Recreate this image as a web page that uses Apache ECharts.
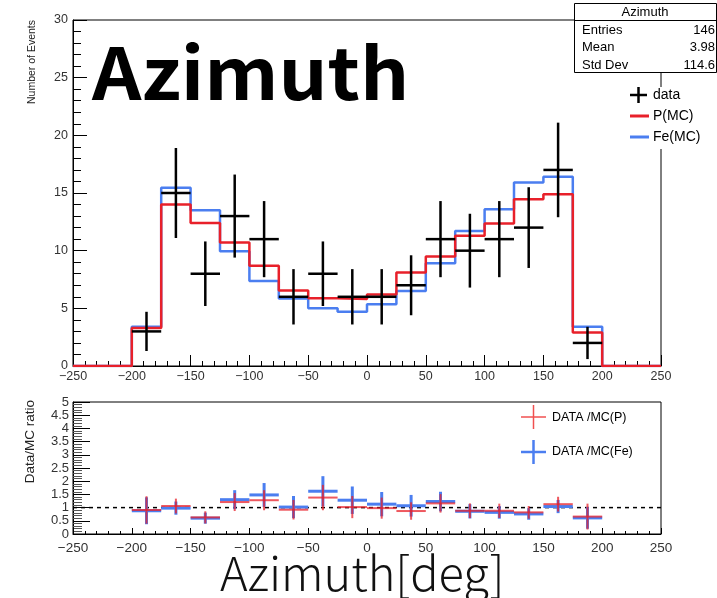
<!DOCTYPE html>
<html>
<head>
<meta charset="utf-8">
<script src="https://cdn.jsdelivr.net/npm/echarts@6/dist/echarts.min.js"></script>
<style>
  html, body { margin: 0; padding: 0; background: #fff; }
  #chart { width: 717px; height: 598px; }
</style>
</head>
<body>
<div id="chart"></div>
<script>
// Azimuth distribution: data vs. proton / iron Monte Carlo, with Data/MC ratio panel.
const binCenters = [-187.5, -162.5, -137.5, -112.5, -87.5, -62.5, -37.5, -12.5,
                    12.5, 37.5, 62.5, 87.5, 112.5, 137.5, 162.5, 187.5];
const binHalfWidth = 12.5;

const dataCounts = [3, 15, 8, 13, 11, 6, 8, 6, 6, 7, 11, 10, 11, 12, 17, 2];
const dataErrors = [1.7, 3.9, 2.8, 3.6, 3.3, 2.4, 2.8, 2.4, 2.4, 2.6, 3.3, 3.2, 3.3, 3.5, 4.1, 1.4];

const mcProton = [3.3, 14.0, 12.4, 10.7, 8.7, 6.55, 5.87, 5.8, 6.2, 8.1, 9.5, 11.3, 12.35, 14.45, 14.9, 2.9];
const mcIron   = [3.4, 15.45, 13.5, 9.95, 7.37, 5.85, 5.0, 4.7, 5.35, 6.5, 8.9, 11.7, 13.6, 15.9, 16.4, 3.4];

const ratioProton    = [0.91, 1.06, 0.63, 1.21, 1.28, 0.92, 1.38, 1.02, 0.98, 0.87, 1.16, 0.88, 0.88, 0.82, 1.13, 0.66];
const ratioProtonErr = [0.52, 0.28, 0.23, 0.34, 0.38, 0.37, 0.48, 0.42, 0.40, 0.33, 0.35, 0.28, 0.27, 0.24, 0.28, 0.49];
const ratioIron      = [0.88, 0.98, 0.60, 1.30, 1.48, 1.02, 1.62, 1.28, 1.13, 1.07, 1.23, 0.86, 0.82, 0.76, 1.04, 0.61];
const ratioIronErr   = [0.51, 0.25, 0.21, 0.36, 0.45, 0.42, 0.57, 0.52, 0.46, 0.41, 0.37, 0.27, 0.24, 0.22, 0.25, 0.41];

const xTicks = { min: -250, max: 250, interval: 50 };
const statsRows = [['Entries', '146'], ['Mean', '3.98'], ['Std Dev', '114.6']];

const RED = '#e8202a';
const BLUE = '#4b7ef0';
const AXIS_FONT = 'Liberation Sans, Arial, sans-serif';

// Step outline of a binned histogram, zero outside the filled bins.
function stepOutline(values) {
  const pts = [[xTicks.min, 0]];
  let prev = 0;
  values.forEach((v, i) => {
    const lo = binCenters[i] - binHalfWidth;
    const hi = binCenters[i] + binHalfWidth;
    pts.push([lo, prev], [lo, v], [hi, v]);
    prev = v;
  });
  const last = binCenters[binCenters.length - 1] + binHalfWidth;
  pts.push([last, 0], [xTicks.max, 0]);
  return pts;
}

// Error-bar crosses: [x, y, xErr, yErr]
function crossItems(values, errors) {
  return values.map((v, i) => [binCenters[i], v, binHalfWidth, errors[i]]);
}
function crossRenderer(color, width, opacity) {
  return function (params, api) {
    const x = api.value(0), y = api.value(1), ex = api.value(2), ey = api.value(3);
    const l = api.coord([x - ex, y]), r = api.coord([x + ex, y]);
    const t = api.coord([x, y + ey]), b = api.coord([x, y - ey]);
    const style = { stroke: color, lineWidth: width, opacity: opacity };
    return {
      type: 'group',
      children: [
        { type: 'line', shape: { x1: l[0], y1: l[1], x2: r[0], y2: r[1] }, style: style },
        { type: 'line', shape: { x1: t[0], y1: t[1], x2: b[0], y2: b[1] }, style: style }
      ]
    };
  };
}

const minusFmt = v => String(v).replace('-', '\u2212');

function xAxisDef(gridIndex, fontSize, margin, majorLen, minorLen) {
  return {
    type: 'value', gridIndex: gridIndex,
    min: xTicks.min, max: xTicks.max, interval: xTicks.interval,
    axisLine: { onZero: false, lineStyle: { color: '#000', width: 1 } },
    axisTick: { inside: true, length: majorLen, lineStyle: { color: '#000', width: 1 } },
    minorTick: { show: true, splitNumber: 5, length: minorLen, lineStyle: { color: '#000', width: 1 } },
    splitLine: { show: false },
    axisLabel: { fontFamily: AXIS_FONT, fontSize: fontSize, color: '#333', margin: margin,
                 showMinLabel: true, showMaxLabel: true, formatter: minusFmt }
  };
}

const chart = echarts.init(document.getElementById('chart'), null, { renderer: 'canvas' });

const option = {
  backgroundColor: '#fff',
  animation: false,
  grid: [
    { left: 73, top: 20, width: 588, height: 346, show: true, borderColor: '#000', borderWidth: 1, backgroundColor: 'transparent' },
    { left: 73, top: 402, width: 588, height: 132, show: true, borderColor: '#000', borderWidth: 1, backgroundColor: 'transparent' }
  ],
  xAxis: [
    xAxisDef(0, 12.5, 4, 11, 5),
    xAxisDef(1, 13.5, 7, 6, 3)
  ],
  yAxis: [
    {
      type: 'value', gridIndex: 0, min: 0, max: 30, interval: 5,
      axisLine: { show: true, onZero: false, lineStyle: { color: '#000', width: 1 } },
      axisTick: { show: true, inside: true, length: 14, lineStyle: { color: '#000' } },
      minorTick: { show: true, splitNumber: 5, length: 8, lineStyle: { color: '#000' } },
      splitLine: { show: false },
      axisLabel: { fontFamily: AXIS_FONT, fontSize: 12.5, color: '#333', margin: 5, showMinLabel: true, showMaxLabel: true }
    },
    {
      type: 'value', gridIndex: 1, min: 0, max: 5, interval: 0.5,
      axisLine: { show: true, onZero: false, lineStyle: { color: '#000', width: 1 } },
      axisTick: { show: true, inside: true, length: 17, lineStyle: { color: '#000' } },
      minorTick: { show: true, splitNumber: 5, length: 9, lineStyle: { color: '#555' } },
      splitLine: { show: false },
      axisLabel: { fontFamily: AXIS_FONT, fontSize: 13, lineHeight: 12, color: '#333', margin: 4,
                   showMinLabel: true, showMaxLabel: true, hideOverlap: false }
    }
  ],
  series: [
    {
      name: 'Fe(MC)', type: 'line', xAxisIndex: 0, yAxisIndex: 0,
      data: stepOutline(mcIron), showSymbol: false, z: 2,
      lineStyle: { color: BLUE, width: 2.5 }
    },
    {
      name: 'P(MC)', type: 'line', xAxisIndex: 0, yAxisIndex: 0,
      data: stepOutline(mcProton), showSymbol: false, z: 3,
      lineStyle: { color: RED, width: 2.5 }
    },
    {
      name: 'data', type: 'custom', xAxisIndex: 0, yAxisIndex: 0, z: 4,
      data: crossItems(dataCounts, dataErrors),
      encode: { x: 0, y: 1 },
      renderItem: crossRenderer('#000', 2.5, 1)
    },
    {
      name: 'unity', type: 'line', xAxisIndex: 1, yAxisIndex: 1, z: 1,
      data: [[xTicks.min, 1], [xTicks.max, 1]], showSymbol: false,
      lineStyle: { color: '#000', width: 1.5, type: [4, 4] }
    },
    {
      name: 'DATA /MC(Fe)', type: 'custom', xAxisIndex: 1, yAxisIndex: 1, z: 2,
      data: crossItems(ratioIron, ratioIronErr),
      encode: { x: 0, y: 1 },
      renderItem: crossRenderer(BLUE, 3, 1)
    },
    {
      name: 'DATA /MC(P)', type: 'custom', xAxisIndex: 1, yAxisIndex: 1, z: 3,
      data: crossItems(ratioProton, ratioProtonErr),
      encode: { x: 0, y: 1 },
      renderItem: crossRenderer(RED, 2, 0.75)
    }
  ],
  graphic: [
    // axis titles
    { type: 'text', x: 27, y: 20, rotation: Math.PI / 2, z: 10,
      style: { text: 'Number of Events', font: '10.5px ' + AXIS_FONT, fill: '#222', align: 'right', verticalAlign: 'top' } },
    { type: 'text', x: 23, y: 400, rotation: Math.PI / 2, z: 10,
      style: { text: 'Data/MC ratio', font: '13.5px ' + AXIS_FONT, fill: '#222', align: 'right', verticalAlign: 'top' } },
    // panel title
    { type: 'text', x: 92, y: 37, z: 10, scaleX: 1.07,
      style: { text: 'Azimuth', font: 'bold 72px "Noto Sans CJK JP", "Noto Sans", sans-serif', fill: '#000', align: 'left', verticalAlign: 'top' } },
    // x-axis title
    { type: 'text', x: 220, y: 550, z: 10,
      style: { text: 'Azimuth[deg]', font: '300 47px "Noto Sans CJK JP", sans-serif', fill: '#111', align: 'left', verticalAlign: 'top' } },
    // statistics box
    { type: 'group', z: 20, children: [
      { type: 'rect', shape: { x: 574.5, y: 3.5, width: 142, height: 69 }, style: { fill: '#fff', stroke: '#000', lineWidth: 1 } },
      { type: 'line', shape: { x1: 574.5, y1: 20.5, x2: 716.5, y2: 20.5 }, style: { stroke: '#000', lineWidth: 1 } },
      { type: 'text', x: 645, y: 12, style: { text: 'Azimuth', font: '13px ' + AXIS_FONT, fill: '#000', align: 'center', verticalAlign: 'middle' } }
    ].concat(statsRows.flatMap((row, i) => [
      { type: 'text', x: 582, y: 30 + i * 17.5, style: { text: row[0], font: '13px ' + AXIS_FONT, fill: '#000', align: 'left', verticalAlign: 'middle' } },
      { type: 'text', x: 715, y: 30 + i * 17.5, style: { text: row[1], font: '13px ' + AXIS_FONT, fill: '#000', align: 'right', verticalAlign: 'middle' } }
    ])) },
    // legend (upper panel)
    { type: 'group', z: 20, children: [
      { type: 'rect', shape: { x: 622, y: 87, width: 95, height: 62 }, style: { fill: '#fff' } },
      { type: 'line', shape: { x1: 630, y1: 95, x2: 647, y2: 95 }, style: { stroke: '#000', lineWidth: 2.5 } },
      { type: 'line', shape: { x1: 638.5, y1: 87, x2: 638.5, y2: 103 }, style: { stroke: '#000', lineWidth: 2.5 } },
      { type: 'text', x: 653, y: 95, style: { text: 'data', font: '14px ' + AXIS_FONT, fill: '#000', verticalAlign: 'middle' } },
      { type: 'line', shape: { x1: 630, y1: 116, x2: 649, y2: 116 }, style: { stroke: RED, lineWidth: 3 } },
      { type: 'text', x: 653, y: 116, style: { text: 'P(MC)', font: '14px ' + AXIS_FONT, fill: '#000', verticalAlign: 'middle' } },
      { type: 'line', shape: { x1: 630, y1: 137, x2: 649, y2: 137 }, style: { stroke: BLUE, lineWidth: 3 } },
      { type: 'text', x: 653, y: 137, style: { text: 'Fe(MC)', font: '14px ' + AXIS_FONT, fill: '#000', verticalAlign: 'middle' } }
    ] },
    // legend (ratio panel)
    { type: 'group', z: 20, children: [
      { type: 'line', shape: { x1: 521, y1: 417, x2: 546, y2: 417 }, style: { stroke: '#f05050', lineWidth: 1.5 } },
      { type: 'line', shape: { x1: 533.5, y1: 405, x2: 533.5, y2: 429 }, style: { stroke: '#f05050', lineWidth: 1.5 } },
      { type: 'text', x: 552, y: 418, style: { text: 'DATA /MC(P)', font: '12.5px ' + AXIS_FONT, fill: '#000', verticalAlign: 'middle' } },
      { type: 'line', shape: { x1: 521, y1: 452, x2: 546, y2: 452 }, style: { stroke: BLUE, lineWidth: 2.5 } },
      { type: 'line', shape: { x1: 533.5, y1: 440, x2: 533.5, y2: 464 }, style: { stroke: BLUE, lineWidth: 2.5 } },
      { type: 'text', x: 552, y: 452, style: { text: 'DATA /MC(Fe)', font: '12.5px ' + AXIS_FONT, fill: '#000', verticalAlign: 'middle' } }
    ] }
  ]
};

chart.setOption(option);
</script>
</body>
</html>
